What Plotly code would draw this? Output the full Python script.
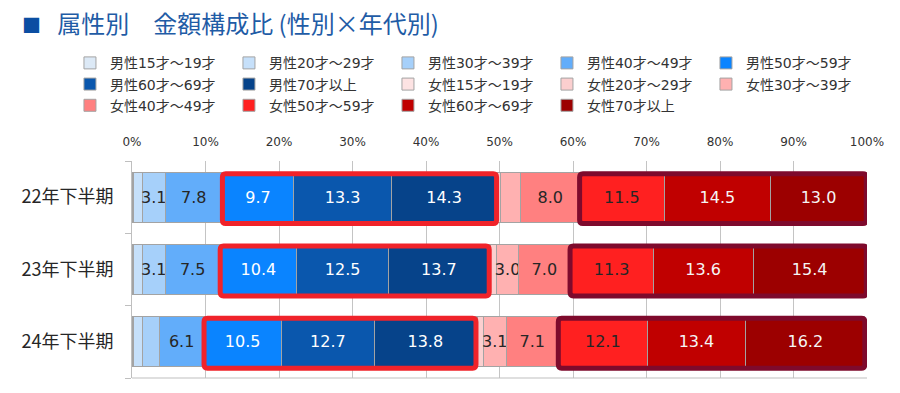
import plotly.graph_objects as go

categories = ["22年下半期", "23年下半期", "24年下半期"]
series_names = [
    "男性15才～19才", "男性20才～29才", "男性30才～39才", "男性40才～49才",
    "男性50才～59才", "男性60才～69才", "男性70才以上",
    "女性15才～19才", "女性20才～29才", "女性30才～39才", "女性40才～49才",
    "女性50才～59才", "女性60才～69才", "女性70才以上",
]
m15 = [0.2, 0.2, 0.2]
m20 = [1.2, 1.2, 1.2]
m30 = [3.1, 3.1, 2.3]
m40 = [7.8, 7.5, 6.1]
m50 = [9.7, 10.4, 10.5]
m60 = [13.3, 12.5, 12.7]
m70 = [14.3, 13.7, 13.8]
f15 = [0.1, 0.2, 0.2]
f20 = [0.5, 0.8, 0.8]
f30 = [2.7, 3.0, 3.1]
f40 = [8.0, 7.0, 7.1]
f50 = [11.5, 11.3, 12.1]
f60 = [14.5, 13.6, 13.4]
f70 = [13.0, 15.4, 16.2]
series_values = [m15, m20, m30, m40, m50, m60, m70, f15, f20, f30, f40, f50, f60, f70]
tick_values = [0, 10, 20, 30, 40, 50, 60, 70, 80, 90, 100]
tick_labels = [f"{v}%" for v in tick_values]

colors = [
    "#dce9f6", "#c6e0fa", "#a6d0fa", "#62adfa", "#0a84ff", "#0a57ad", "#06438a",
    "#fde3e3", "#fbcfcf", "#ffb1b1", "#ff8080", "#ff2020", "#c00000", "#9c0000",
]
text_colors = [
    "#262626", "#262626", "#262626", "#262626", "#ffffff", "#ffffff", "#ffffff",
    "#262626", "#262626", "#262626", "#262626", "#262626", "#f5f5f5", "#f5f5f5",
]

FONT = "DejaVu Sans, Noto Sans CJK JP, sans-serif"
ypos = list(range(len(categories)))
BARGAP = 0.31

fig = go.Figure()
for name, vals, col, tcol in zip(series_names, series_values, colors, text_colors):
    fig.add_trace(go.Bar(
        name=name, y=ypos, x=vals, orientation="h",
        marker=dict(color=col, line=dict(color="#a3a3a3", width=1)),
        text=[f"{v:.1f}" if v >= 3 else "" for v in vals],
        textposition="inside", insidetextanchor="middle", textangle=0,
        constraintext="none",
        insidetextfont=dict(family=FONT, size=16, color=tcol),
        hoverinfo="skip",
    ))

# highlight boxes derived from the data
half = (1 - BARGAP) / 2
def rounded(x0, x1, y0, y1, rx=0.45, ry=0.05):
    return (f"M{x0+rx},{y0} L{x1-rx},{y0} Q{x1},{y0} {x1},{y0+ry} "
            f"L{x1},{y1-ry} Q{x1},{y1} {x1-rx},{y1} L{x0+rx},{y1} "
            f"Q{x0},{y1} {x0},{y1-ry} L{x0},{y0+ry} Q{x0},{y0} {x0+rx},{y0} Z")

for i in ypos:
    cum = [0]
    for s in series_values:
        cum.append(cum[-1] + s[i])
    fig.add_shape(type="path", xref="x", yref="y",
                  path=rounded(cum[4], cum[7], i - half + 0.02, i + half + 0.02),
                  line=dict(color="#f0232a", width=5), fillcolor="rgba(0,0,0,0)")
    fig.add_shape(type="path", xref="x", yref="y",
                  path=rounded(cum[11], cum[14], i - half + 0.02, i + half + 0.02),
                  line=dict(color="#7e0a2c", width=5), fillcolor="rgba(0,0,0,0)")

# bottom border of plot area
fig.add_shape(type="line", xref="paper", yref="paper", x0=0, x1=1, y0=0, y1=0,
              line=dict(color="#bfbfbf", width=1))

fig.update_layout(
    width=900, height=393,
    barmode="stack", bargap=BARGAP,
    plot_bgcolor="white", paper_bgcolor="white",
    margin=dict(l=124, r=41, t=153, b=23, autoexpand=False),
    font=dict(family=FONT, color="#262626"),
    title=dict(
        text="<span style='color:#0b4ea2;font-size:19px'>■</span>   属性別　金額構成比 (性別×年代別)",
        xref="container", yref="container", x=0.0156, y=1 - 17 / 393,
        xanchor="left", yanchor="middle",
        font=dict(family="Noto Sans CJK JP, sans-serif", size=24, color="#1f5ca6"),
    ),
    legend=dict(
        orientation="h", x=-0.0844, xanchor="left", y=1.524, yanchor="top",
        entrywidth=114, entrywidthmode="pixels",
        font=dict(family=FONT, size=14, color="#333333"),
        traceorder="normal", itemclick=False, itemdoubleclick=False,
        bgcolor="rgba(0,0,0,0)",
    ),
    xaxis=dict(
        side="top", range=[0, 100], tickvals=tick_values, ticktext=tick_labels,
        showgrid=True, gridcolor="#c4c4c4", gridwidth=1, zeroline=False,
        showline=False, ticks="", ticklabelstandoff=12,
        tickfont=dict(family=FONT, size=12, color="#333333"),
        fixedrange=True,
    ),
    yaxis=dict(
        range=[len(categories) - 0.5, -0.5], tickvals=ypos, ticktext=categories,
        showgrid=False, zeroline=False, showline=True, linecolor="#bfbfbf",
        ticks="", ticklabelstandoff=14,
        minor=dict(tick0=-0.5, dtick=1, ticks="outside", ticklen=6,
                   tickcolor="#bfbfbf", showgrid=False),
        tickfont=dict(family="Noto Sans CJK JP, sans-serif", size=18, color="#262626"),
        fixedrange=True,
    ),
)

fig.write_html("out.html")
